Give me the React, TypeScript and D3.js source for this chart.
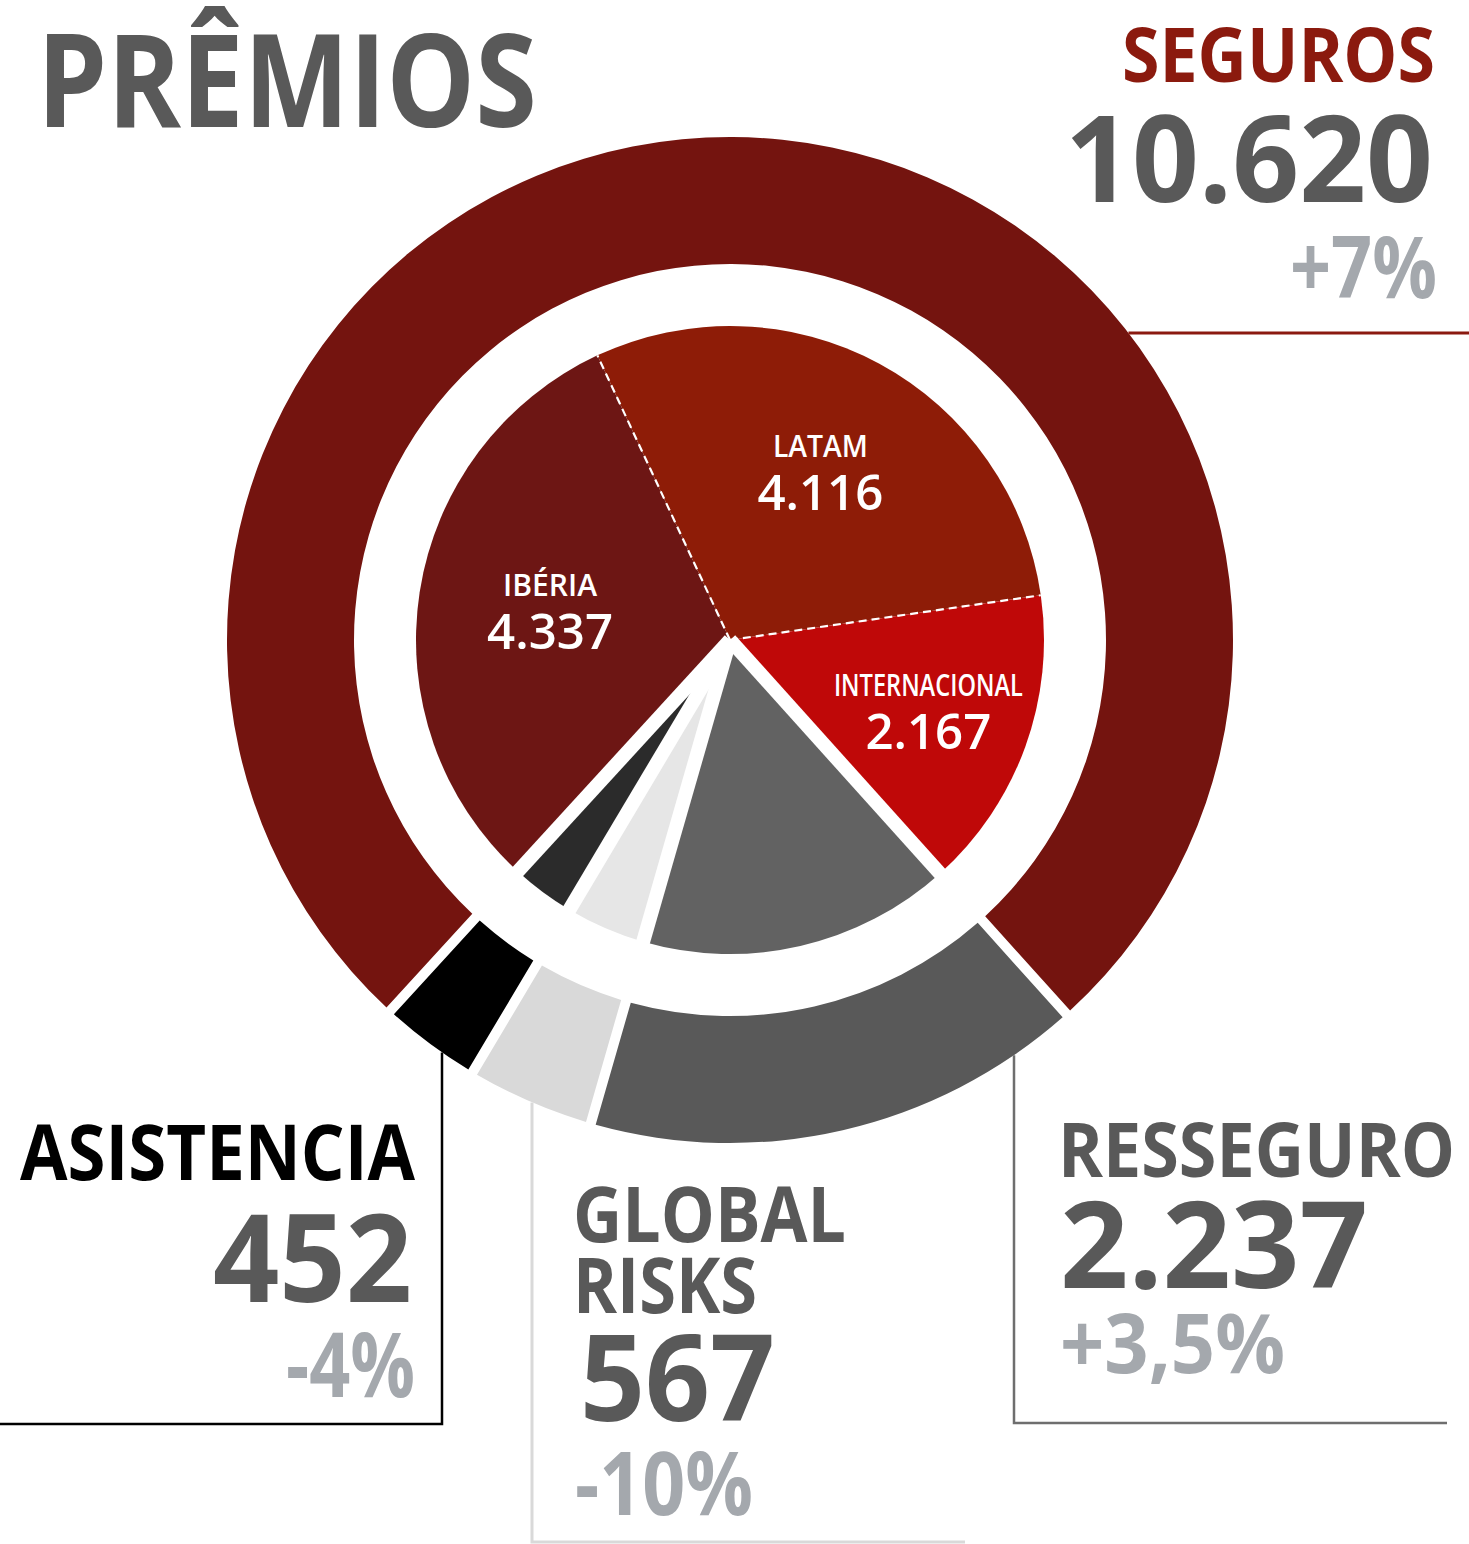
import * as d3 from "d3";

// values (R$ milhões)
const title = "PRÊMIOS";
const segments = ["SEGUROS", "RESSEGURO", "GLOBAL RISKS", "ASISTENCIA"];
const segmentValues = [10620, 2237, 567, 452];
const segmentChanges = ["+7%", "+3,5%", "-10%", "-4%"];
const regions = ["IBÉRIA", "LATAM", "INTERNACIONAL"];
const regionValues = [4337, 4116, 2167];

const outerColors = ["#74140f", "#595959", "#d9d9d9", "#000000"];
const innerColors = ["#6d1614", "#8e1c07", "#bf0808", "#626262", "#e6e6e6", "#2b2b2b"];

const W = 1469;
const H = 1544;
const cx = 730;
const cy = 640;
const R_OUT = 503;
const R_IN = 376;
const R_PIE = 314;
const START = (222.5 * Math.PI) / 180;
const FONT = "'Open Sans', 'DejaVu Sans', sans-serif";
const GRAY = "#595959";
const PCT = "#a4a8ad";

const fmt = d3.formatLocale({ decimal: ",", thousands: ".", grouping: [3], currency: ["", ""] }).format(",d");

const pie = d3.pie<number>().sort(null).startAngle(START).endAngle(START + 2 * Math.PI);
const outerArcs = pie(segmentValues);
const innerArcs = pie([...regionValues, ...segmentValues.slice(1)]);

const ringArc = d3.arc<d3.PieArcDatum<number>>().innerRadius(R_IN).outerRadius(R_OUT).padAngle(0.016);
const pieArc = d3.arc<d3.PieArcDatum<number>>().innerRadius(0).outerRadius(R_PIE);

const pt = (a: number, r: number) => [cx + r * Math.sin(a), cy - r * Math.cos(a)];

function T(props: any) {
  const { x, y, w, size, fill, weight = 700, children } = props;
  return (
    <text x={x} y={y} fontSize={size} fill={fill} fontWeight={weight} fontFamily={FONT}
      textLength={w} lengthAdjust="spacingAndGlyphs">{children}</text>
  );
}

export default function App() {
  // white gaps between gray wedges and the red part of the inner pie
  const gapAngles = [innerArcs[2].endAngle, innerArcs[3].endAngle, innerArcs[4].endAngle, innerArcs[5].endAngle];
  const dashAngles = [innerArcs[0].endAngle, innerArcs[1].endAngle];
  const labelR = [182, 190, 211];

  const ringBottom = (x: number) => cy + Math.sqrt(R_OUT * R_OUT - (x - cx) * (x - cx));
  const ringRight = (y: number) => cx + Math.sqrt(R_OUT * R_OUT - (y - cy) * (y - cy));

  const [gr1, gr2] = segments[2].split(" ");

  return (
    <svg width={W} height={H} style={{ position: "absolute", left: 0, top: 0, background: "#fff" }}>
      <g transform={`translate(${cx},${cy})`}>
        {outerArcs.map((d, i) => (
          <path key={i} d={ringArc(d) as string} fill={outerColors[i]} />
        ))}
        {innerArcs.map((d, i) => (
          <path key={i} d={pieArc(d) as string} fill={innerColors[i]} />
        ))}
      </g>
      {gapAngles.map((a, i) => {
        const [x2, y2] = pt(a, R_PIE + 10);
        return <line key={i} x1={cx} y1={cy} x2={x2} y2={y2} stroke="#fff" strokeWidth={14} />;
      })}
      {dashAngles.map((a, i) => {
        const [x2, y2] = pt(a, R_PIE);
        return <line key={i} x1={cx} y1={cy} x2={x2} y2={y2} stroke="#fff" strokeWidth={2.2} strokeDasharray="8 5" />;
      })}
      {innerArcs.slice(0, 3).map((d, i) => {
        const mid = (d.startAngle + d.endAngle) / 2;
        const [x, y] = pt(mid, labelR[i]);
        const nameW = [94, 95, 189][i];
        return (
          <g key={i}>
            <T x={x - nameW / 2} y={y - 16} w={nameW} size={31} fill="#fff" weight={600}>{regions[i]}</T>
            <T x={x - 63} y={y + 37} w={126} size={49} fill="#fff" weight={600}>{fmt(regionValues[i])}</T>
          </g>
        );
      })}

      {/* leader lines */}
      <line x1={ringRight(333)} y1={333} x2={W} y2={333} stroke="#8b1a10" strokeWidth={3} />
      <polyline points={`442,${ringBottom(442)} 442,1424 0,1424`} fill="none" stroke="#000" strokeWidth={2.5} />
      <polyline points={`532,${ringBottom(532)} 532,1542 965,1542`} fill="none" stroke="#d9d9d9" strokeWidth={3} />
      <polyline points={`1014,${ringBottom(1014)} 1014,1423 1447,1423`} fill="none" stroke="#6e6e6e" strokeWidth={2.5} />

      <T x={37} y={127} w={500} size={130} fill={GRAY}>{title}</T>

      {/* SEGUROS */}
      <T x={1122} y={82} w={313} size={76} fill="#8b1a0e">{segments[0]}</T>
      <T x={1065} y={202} w={368} size={120} fill={GRAY}>{fmt(segmentValues[0])}</T>
      <T x={1290} y={298} w={147} size={86} fill={PCT}>{segmentChanges[0]}</T>

      {/* ASISTENCIA */}
      <T x={20} y={1180} w={395} size={77} fill="#000">{segments[3]}</T>
      <T x={213} y={1302} w={199} size={122} fill={GRAY}>{fmt(segmentValues[3])}</T>
      <T x={286} y={1397} w={129} size={90} fill={PCT}>{segmentChanges[3]}</T>

      {/* GLOBAL RISKS */}
      <T x={573} y={1242} w={273} size={77} fill={GRAY}>{gr1}</T>
      <T x={573} y={1313} w={184} size={77} fill={GRAY}>{gr2}</T>
      <T x={580} y={1421} w={195} size={120} fill={GRAY}>{fmt(segmentValues[2])}</T>
      <T x={575} y={1515} w={178} size={88} fill={PCT}>{segmentChanges[2]}</T>

      {/* RESSEGURO */}
      <T x={1058} y={1177} w={397} size={76} fill={GRAY}>{segments[1]}</T>
      <T x={1060} y={1288} w={308} size={120} fill={GRAY}>{fmt(segmentValues[1])}</T>
      <T x={1060} y={1373} w={225} size={82} fill={PCT}>{segmentChanges[1]}</T>
    </svg>
  );
}
